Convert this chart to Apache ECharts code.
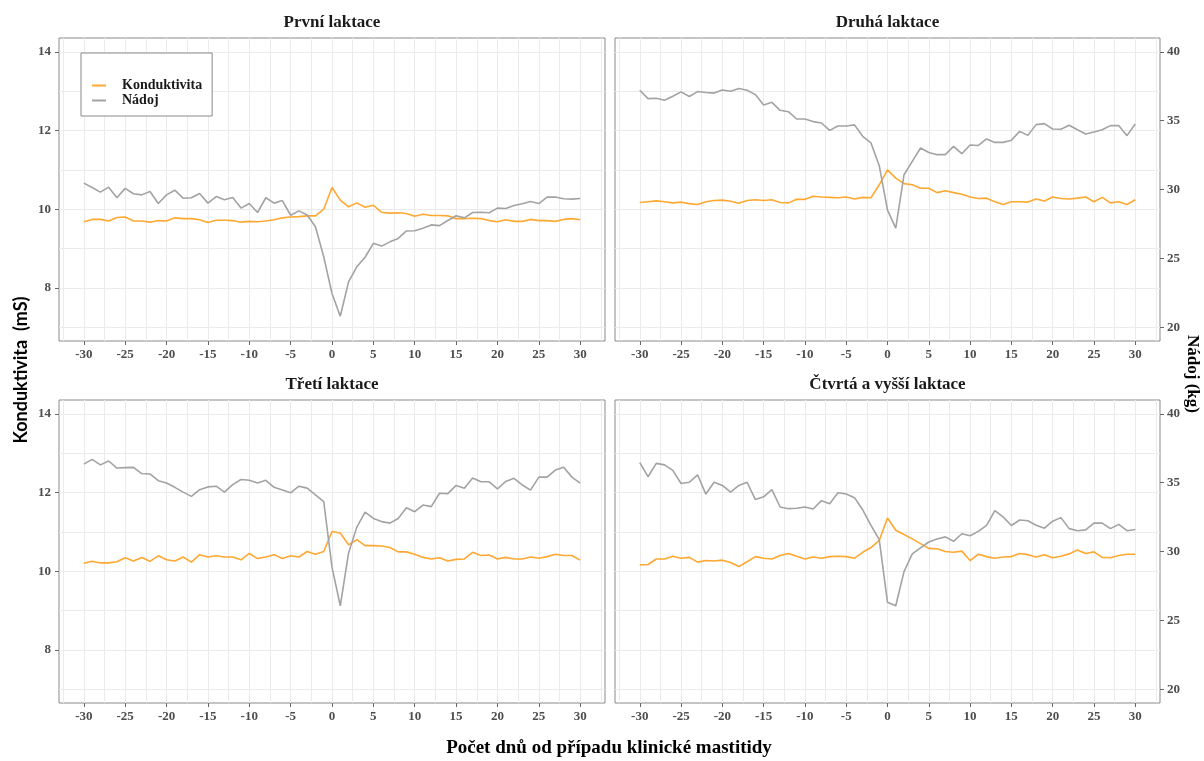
<!DOCTYPE html>
<html>
<head>
<meta charset="utf-8">
<script src="https://cdn.jsdelivr.net/npm/echarts@6/dist/echarts.min.js"></script>
<style>
html,body{margin:0;padding:0;background:#fff;}
#chart{width:1204px;height:761px;}
</style>
</head>
<body>
<div id="chart"></div>
<script>
// ---- data ----
const days = [-30,-29,-28,-27,-26,-25,-24,-23,-22,-21,-20,-19,-18,-17,-16,-15,-14,-13,-12,-11,-10,-9,-8,-7,-6,-5,-4,-3,-2,-1,
  0,1,2,3,4,5,6,7,8,9,10,11,12,13,14,15,16,17,18,19,20,21,22,23,24,25,26,27,28,29,30];

const panelTitles = ['První laktace','Druhá laktace','Třetí laktace','Čtvrtá a vyšší laktace'];

const konduktivita1 = [9.68,9.74,9.74,9.70,9.79,9.80,9.70,9.70,9.67,9.71,9.70,9.78,9.76,9.76,9.73,9.66,9.72,9.72,9.71,9.67,9.69,9.68,9.70,9.73,9.78,9.80,9.81,9.83,9.83,10.00,
  10.55,10.23,10.06,10.16,10.05,10.10,9.92,9.90,9.91,9.89,9.82,9.87,9.84,9.84,9.83,9.76,9.76,9.77,9.76,9.71,9.68,9.73,9.69,9.69,9.74,9.71,9.71,9.69,9.74,9.76,9.73];
const nadoj1 = [30.46,30.14,29.81,30.17,29.40,30.08,29.69,29.61,29.85,28.98,29.61,29.95,29.37,29.40,29.71,29.01,29.49,29.25,29.42,28.65,28.98,28.33,29.40,29.01,29.20,28.13,28.45,28.15,27.30,25.12,
  22.45,20.80,23.29,24.39,25.08,26.09,25.89,26.20,26.45,26.99,27.01,27.19,27.43,27.38,27.75,28.09,27.94,28.33,28.35,28.31,28.65,28.62,28.84,28.96,29.13,28.98,29.45,29.45,29.33,29.30,29.35];

const konduktivita2 = [10.17,10.19,10.21,10.19,10.16,10.18,10.14,10.12,10.19,10.22,10.23,10.20,10.15,10.22,10.24,10.22,10.24,10.17,10.16,10.25,10.25,10.33,10.31,10.30,10.29,10.31,10.26,10.30,10.29,10.62,
  11.00,10.79,10.65,10.62,10.53,10.53,10.42,10.47,10.42,10.38,10.31,10.27,10.28,10.19,10.12,10.19,10.19,10.18,10.26,10.21,10.31,10.27,10.26,10.28,10.31,10.19,10.30,10.16,10.19,10.12,10.24];
const nadoj2 = [37.21,36.60,36.62,36.48,36.77,37.09,36.75,37.11,37.04,37.00,37.23,37.13,37.33,37.21,36.89,36.14,36.33,35.75,35.65,35.12,35.12,34.93,34.83,34.29,34.61,34.61,34.69,33.86,33.38,31.73,
  28.50,27.19,31.07,32.04,33.01,32.69,32.53,32.53,33.13,32.60,33.23,33.20,33.67,33.42,33.42,33.57,34.22,33.93,34.71,34.78,34.39,34.37,34.66,34.34,34.03,34.18,34.34,34.64,34.64,33.91,34.76];

const konduktivita3 = [10.20,10.25,10.21,10.21,10.24,10.34,10.26,10.35,10.25,10.39,10.29,10.26,10.36,10.23,10.42,10.36,10.39,10.36,10.36,10.29,10.45,10.32,10.36,10.42,10.32,10.39,10.36,10.50,10.43,10.50,
  11.01,10.97,10.67,10.80,10.65,10.65,10.64,10.60,10.49,10.49,10.43,10.35,10.31,10.34,10.26,10.30,10.31,10.48,10.40,10.41,10.31,10.35,10.31,10.31,10.36,10.33,10.37,10.43,10.40,10.40,10.28];
const nadoj3 = [36.34,36.69,36.29,36.57,36.06,36.09,36.11,35.66,35.63,35.14,34.97,34.66,34.31,34.00,34.49,34.69,34.74,34.31,34.86,35.23,35.17,34.97,35.17,34.66,34.46,34.26,34.74,34.60,34.11,33.63,
  28.86,26.06,29.89,31.77,32.86,32.40,32.17,32.06,32.40,33.17,32.89,33.37,33.26,34.23,34.20,34.80,34.60,35.34,35.06,35.06,34.54,35.09,35.31,34.83,34.46,35.40,35.40,35.91,36.11,35.40,34.97];

const konduktivita4 = [10.16,10.17,10.31,10.31,10.38,10.33,10.35,10.23,10.27,10.26,10.28,10.22,10.12,10.24,10.37,10.33,10.31,10.40,10.45,10.38,10.31,10.36,10.33,10.37,10.38,10.37,10.33,10.48,10.60,10.78,
  11.35,11.04,10.93,10.82,10.70,10.58,10.57,10.50,10.48,10.51,10.27,10.43,10.37,10.33,10.36,10.37,10.45,10.42,10.36,10.42,10.34,10.38,10.44,10.54,10.45,10.49,10.35,10.34,10.40,10.43,10.43];
const nadoj4 = [36.46,35.43,36.40,36.29,35.89,34.94,35.03,35.57,34.17,35.03,34.80,34.31,34.80,35.03,33.77,33.97,34.49,33.23,33.11,33.14,33.23,33.09,33.69,33.46,34.26,34.17,33.91,33.03,31.89,30.86,
  26.31,26.06,28.54,29.83,30.26,30.69,30.91,31.06,30.74,31.29,31.14,31.46,31.89,32.97,32.51,31.89,32.29,32.23,31.91,31.69,32.20,32.46,31.66,31.51,31.57,32.06,32.06,31.66,31.97,31.51,31.60];

const xTicks = [-30,-25,-20,-15,-10,-5,0,5,10,15,20,25,30];
const xGridValues = [-32.5,-30,-27.5,-25,-22.5,-20,-17.5,-15,-12.5,-10,-7.5,-5,-2.5,0,2.5,5,7.5,10,12.5,15,17.5,20,22.5,25,27.5,30,32.5];
const leftTicks = [8,10,12,14];
const yGridValues = [7,8,9,10,11,12,13,14];
const rightTicks = [20,25,30,35,40];

const konduktivitaSets = [konduktivita1, konduktivita2, konduktivita3, konduktivita4];
const nadojSets = [nadoj1, nadoj2, nadoj3, nadoj4];

// ---- layout / style ----
const ORANGE = '#FFA832';
const GRAY = '#A3A3A3';
const SERIF = 'Liberation Serif';
const gridPos = [
  {left: 59, top: 38, width: 546, height: 303},
  {left: 615, top: 38, width: 545, height: 303},
  {left: 59, top: 400, width: 546, height: 303},
  {left: 615, top: 400, width: 545, height: 303}
];
const K_MIN = 6.65, K_MAX = 14.35;     // conductivity axis (mS)
const N_MIN = K_MIN * 20 / 7, N_MAX = K_MAX * 20 / 7; // milk yield axis (kg): sec axis = mS*20/7

const tickLabelStyle = {color: '#4d4d4d', fontFamily: SERIF, fontWeight: 'bold', fontSize: 13};
const gridLineColor = '#ebebeb';

const grids = [], xAxes = [], yAxes = [], series = [], graphics = [];
gridPos.forEach((g, i) => {
  const isLeft = (i % 2 === 0);
  grids.push(Object.assign({show: true, borderColor: '#8a8a8a', borderWidth: 1, backgroundColor: '#fff', containLabel: false}, g));
  xAxes.push({
    gridIndex: i, type: 'value', min: -33, max: 33, position: 'bottom',
    axisLine: {show: false, onZero: false},
    axisTick: {show: true, customValues: xTicks, length: 4, lineStyle: {color: '#666'}},
    axisLabel: Object.assign({customValues: xTicks, margin: 7}, tickLabelStyle),
    splitLine: {show: false}
  });
  yAxes.push({
    gridIndex: i, type: 'value', min: K_MIN, max: K_MAX, position: 'left',
    axisLine: {show: false, onZero: false},
    axisTick: {show: isLeft, customValues: leftTicks, length: 4, lineStyle: {color: '#666'}},
    axisLabel: Object.assign({show: isLeft, customValues: leftTicks, margin: 8}, tickLabelStyle),
    splitLine: {show: false}
  });
  yAxes.push({
    gridIndex: i, type: 'value', min: N_MIN, max: N_MAX, position: 'right',
    axisLine: {show: false, onZero: false},
    axisTick: {show: !isLeft, customValues: rightTicks, length: 4, lineStyle: {color: '#666'}},
    axisLabel: Object.assign({show: !isLeft, customValues: rightTicks, margin: 7}, tickLabelStyle),
    splitLine: {show: false}
  });
  // background grid lines (major + minor, ggplot theme_bw style)
  series.push({
    name: 'grid' + i, type: 'line', xAxisIndex: i, yAxisIndex: 2 * i,
    data: [], silent: true, z: 1,
    markLine: {
      silent: true, symbol: ['none', 'none'], z: 1, animation: false,
      label: {show: false},
      lineStyle: {color: gridLineColor, width: 1, type: 'solid'},
      emphasis: {disabled: true},
      data: xGridValues.map(v => ({xAxis: v})).concat(yGridValues.map(v => ({yAxis: v})))
    }
  });
  series.push({
    name: 'Konduktivita', type: 'line', xAxisIndex: i, yAxisIndex: 2 * i,
    data: days.map((d, j) => [d, konduktivitaSets[i][j]]),
    showSymbol: false, symbol: 'none', color: ORANGE,
    lineStyle: {color: ORANGE, width: 1.6}, z: 10
  });
  series.push({
    name: 'Nádoj', type: 'line', xAxisIndex: i, yAxisIndex: 2 * i + 1,
    data: days.map((d, j) => [d, nadojSets[i][j]]),
    showSymbol: false, symbol: 'none', color: GRAY,
    lineStyle: {color: GRAY, width: 1.6}, z: 11
  });
  graphics.push({
    type: 'text', x: g.left + g.width / 2, y: g.top - 15,
    style: {text: panelTitles[i], fontFamily: SERIF, fontWeight: 'bold', fontSize: 17, fill: '#1a1a1a', align: 'center', verticalAlign: 'middle'}
  });
});

graphics.push({
  type: 'text', x: 21, y: 370, rotation: Math.PI / 2,
  style: {text: 'Konduktivita  (mS)', fontFamily: 'Lato', fontWeight: 'bold', fontSize: 18, fill: '#000', align: 'center', verticalAlign: 'middle'}
});
graphics.push({
  type: 'text', x: 1192, y: 374, rotation: -Math.PI / 2,
  style: {text: 'Nádoj (kg)', fontFamily: SERIF, fontWeight: 'bold', fontSize: 17, fill: '#000', align: 'center', verticalAlign: 'middle'}
});
graphics.push({
  type: 'text', x: 609, y: 748,
  style: {text: 'Počet dnů od případu klinické mastitidy', fontFamily: SERIF, fontWeight: 'bold', fontSize: 19, fill: '#000', align: 'center', verticalAlign: 'middle'}
});

const chart = echarts.init(document.getElementById('chart'), null, {renderer: 'canvas'});
chart.setOption({
  animation: false,
  backgroundColor: '#fff',
  grid: grids,
  xAxis: xAxes,
  yAxis: yAxes,
  legend: {
    data: ['Konduktivita', 'Nádoj'],
    orient: 'vertical', left: 81, top: 53,
    backgroundColor: '#fff', borderColor: '#8a8a8a', borderWidth: 1, borderRadius: 0,
    padding: [25, 10, 8, 11], itemGap: 0,
    icon: 'rect', itemWidth: 14, itemHeight: 2,
    textStyle: {fontFamily: SERIF, fontWeight: 'bold', fontSize: 14, color: '#1a1a1a', padding: [0, 0, 0, 11], lineHeight: 15}
  },
  series: series,
  graphic: graphics
});
</script>
</body>
</html>
